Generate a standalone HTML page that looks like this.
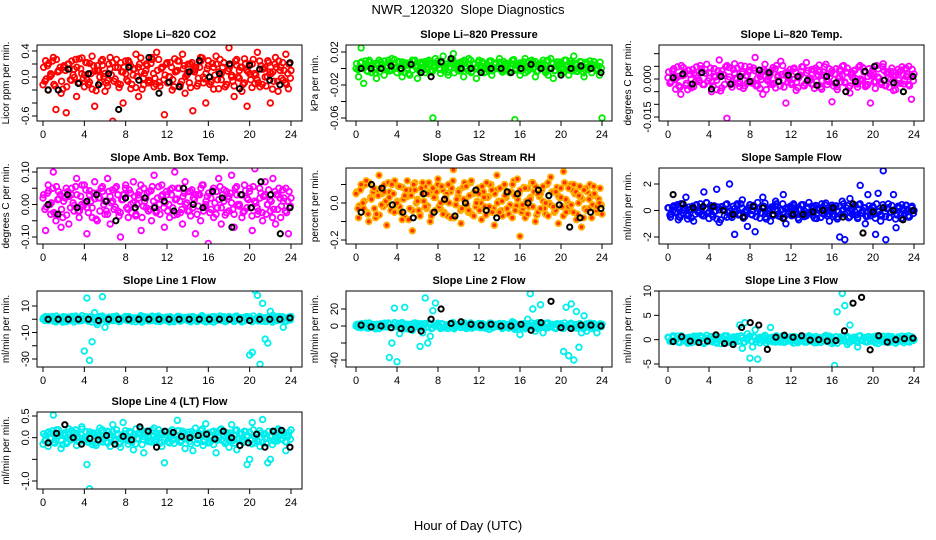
<!DOCTYPE html>
<html><head><meta charset="utf-8"><style>
html,body{margin:0;padding:0;background:#fff;}
svg{display:block;font-family:"Liberation Sans",sans-serif;}
</style></head><body>
<svg id="chart" width="936" height="540" viewBox="0 0 936 540" xmlns="http://www.w3.org/2000/svg">
<rect width="936" height="540" fill="#fff"/>
<text x="468" y="14" text-anchor="middle" font-size="13">NWR_120320&#160;&#160;Slope Diagnostics</text>
<text x="468" y="530" text-anchor="middle" font-size="13">Hour of Day (UTC)</text>
</svg>
<script>
// ---- data (colored = all samples, black = hourly means), scaled integers ----
const xTicks = [0,4,8,12,16,20,24];
const co2Vals = [-12,25,-20,5,30,-50,10,-25,15,-55,20,-5,12,-30,28,5,-15,22,-8,32,-45,10,0,18,-22,-5,30,-68,15,-10,22,-40,5,25,-18,12,35,-30,8,-12,20,-5,30,-15,38,-8,15,-58,22,0,-20,28,10,-15,35,-25,5,20,-52,12,-10,30,0,-40,25,-8,15,32,-18,5,22,-12,45,0,-30,18,10,-22,28,-45,5,20,-10,38,-15,12,0,25,-40,8,30,-22,15,-5,35,-18,10];
const co2Mean = [-20,-20,12,-10,5,-12,5,-50,15,-5,30,-25,-8,-15,8,25,0,5,20,-18,18,12,-5,-12,22];
const presVals = [0,-10,25,-18,5,8,-5,0,-12,10,5,-8,3,-3,12,0,-5,8,-10,5,0,-8,10,3,-12,6,0,-5,8,-3,-60,12,5,-6,15,0,-8,10,18,5,-3,8,-10,0,12,-5,5,-12,10,3,-5,0,8,-8,5,0,12,-3,6,0,-5,10,-62,5,-8,3,12,-3,0,8,-10,5,0,10,-5,-8,12,-12,3,8,-5,0,10,-8,5,15,-3,0,8,-10,5,3,-5,8,0,-8,-60];
const presMean = [0,0,0,3,0,5,-5,-10,8,12,0,0,-5,0,0,-5,0,5,0,0,-8,0,3,0,-5];
const tempVals = [5,-15,30,-40,10,-60,45,-25,35,0,-30,15,-10,40,-20,-185,25,-50,10,-5,75,-35,15,-155,45,-20,60,0,-30,20,50,-15,35,-10,85,-25,10,-60,30,0,-20,45,-35,15,70,-5,-95,25,-15,40,-45,5,30,-25,65,0,-20,35,-10,55,-40,15,-5,40,-90,20,-30,10,50,-15,25,-55,5,35,-20,0,45,-30,10,-95,25,-10,40,-15,60,-25,5,30,-45,15,-5,35,-20,10,50,-80,20];
const tempMean = [5,20,-20,25,-40,10,-20,10,-10,35,25,-10,15,10,-5,-25,10,-15,-50,-10,30,50,-5,-15,-50,10];
const ambVals = [2,-8,6,-3,10,-5,4,-7,1,5,-6,3,-2,8,-4,0,6,-9,3,-1,7,-5,2,4,-3,8,-6,1,5,-2,-10,3,6,-4,0,7,-3,2,-8,5,-1,4,-5,9,-2,0,6,-7,3,-4,5,10,-3,1,-6,7,-2,4,-1,-9,3,-5,6,0,-12,2,5,-3,8,-6,1,4,-2,9,-7,3,0,-4,6,-1,5,-8,11,-3,2,-5,7,0,-2,8,-6,3,-4,1,5,-9,2];
const ambMean = [0,-3,3,-1,1,3,1,-5,2,-1,2,-1,1,-2,5,0,-1,4,2,-7,3,-1,7,3,-9,-1];
const rhVals = [5,-8,10,-3,12,-10,2,8,-6,15,-1,6,-12,3,10,-5,0,9,-9,4,12,-3,-15,7,1,-7,11,-2,5,-10,8,-4,13,0,-6,3,10,-8,18,-1,6,-11,2,9,-4,12,-7,0,5,-9,3,11,-2,7,-12,15,-5,1,10,-3,6,-8,4,13,-18,-1,8,-6,2,11,-10,5,-3,9,0,-7,14,-2,6,-11,3,17,-5,8,-1,10,-9,4,-13,7,-4,2,-8,5,-2,0,-6];
const rhMean = [-5,10,8,-1,-5,-8,5,-5,2,-7,0,7,-4,-8,6,5,0,7,4,-1,-13,-8,-5,-3];
const sampVals = [2,-5,0,3,-7,5,-2,10,-4,1,-8,4,0,-3,14,6,-6,2,-1,16,-9,3,0,-5,20,-2,-18,5,-3,8,-1,-12,4,0,-16,6,-2,10,-5,1,-8,3,7,-4,0,12,-10,2,-3,5,-1,-7,4,0,-4,6,-2,3,-6,1,5,-3,0,-8,4,2,-5,-20,7,-22,-1,9,-3,4,-6,19,0,-10,12,-4,2,-18,13,-8,30,-22,5,-1,12,-13,3,-6,0,4,-5,2,0];
const sampMean = [12,5,2,3,3,0,-3,-5,3,2,-3,-6,-3,-3,-1,0,2,-5,5,-17,-1,2,0,-7,0];
const l1Vals = [0,2,-1,1,0,-2,1,0,2,-1,0,1,-2,0,1,-1,-24,16,-31,-17,5,-4,2,17,-6,0,1,-1,2,0,-1,1,0,2,-1,0,1,0,-1,2,0,1,-1,0,2,0,-1,1,0,-2,1,0,2,-1,0,1,-1,0,2,0,-1,1,0,-2,1,0,2,-1,0,1,-1,0,2,0,-1,1,0,-2,1,2,-27,-25,22,18,-34,12,-15,-18,6,3,-1,2,0,-6,1,0,2];
const l1Mean = [0,0,0,0,0,-1,0,0,0,0,0,0,0,0,0,0,0,0,0,0,-1,0,0,0,1];
const l2Vals = [0,2,-2,1,-1,3,0,-2,1,-3,0,2,-1,-37,-20,21,-42,-9,4,22,-2,0,-5,1,3,-24,-8,33,-20,-12,18,27,0,-3,2,-1,1,3,-2,0,2,-1,0,-3,1,2,-1,0,3,-2,1,0,-4,2,-1,0,3,-2,1,0,-1,5,-4,2,-10,0,-2,8,38,20,-6,4,25,-8,3,-2,0,1,-3,2,-1,-30,22,-35,26,-40,17,-25,-8,12,-6,2,-3,1,-8,0,2];
const l2Mean = [1,-1,0,-2,-3,-4,-6,8,20,3,5,2,1,2,0,0,2,-5,4,29,-2,-3,1,1,0];
const l3Vals = [5,-3,8,0,-5,6,-2,3,-6,1,7,-4,0,5,-8,2,-3,6,0,-5,4,-1,8,-6,2,0,-4,5,30,-18,35,12,-38,-15,20,-40,5,-2,8,-3,25,0,-5,3,-1,6,-4,2,0,-7,5,-2,3,0,-5,8,-3,1,-6,2,0,4,-2,7,-8,-53,57,3,95,70,-10,30,-2,5,-15,8,0,-4,6,-3,1,5,-8,2,0,-2,7,-4,3,-1,5,0,-6,3,8,-2,0];
const l3Mean = [-4,6,-3,-6,-3,10,-8,-10,25,35,30,-20,5,9,5,8,-1,0,-3,-2,18,75,87,-21,8,-5,0,2,3];
const l4Vals = [-15,5,-20,10,52,-5,18,-25,8,-10,20,-3,12,-18,0,25,-8,-62,-118,10,-15,5,22,-10,0,15,-20,30,-5,8,-22,35,0,-15,12,-28,20,-3,8,-35,15,0,-10,22,-5,10,-20,-58,5,-12,18,-3,40,-8,15,-25,0,10,-30,22,-5,8,-18,32,-12,5,15,-35,0,20,-8,12,-22,30,-3,-28,10,-5,15,-62,-50,35,-12,8,-20,42,0,-58,-50,15,-8,20,-3,12,-30,5,18];
const l4Mean = [-12,10,30,0,-15,-2,-5,5,-15,3,-5,25,15,-22,15,12,3,0,5,8,-3,15,0,-18,-12,8,-22,15,17,-22];
// core (dense band) samples, per-mille of each panel's core half-width
const coreA = [10,-5,15,0,-12,20,5,-8,12,-15,8,18,-3,10,-10,22,0,-6,15,-18,5,12,-10,20,2,-14,8,16,-5,10,-12,4,18,-8,12,0,-16,10,22,-4,6,-10,15,2,-12,20,8,-6,14,-2,10,-15,5,18,-8,12,0,-10,16,4,-14,10,22,-5,8,-12,15,0,-6,20,10,-15,5,12,-8,18,-2,10,-12,15,4,-6,20,0,-10,12,8,-14,16,2,-8,10,18,-4,6,-12,14];
const coreB = [-8,12,-2,18,-14,4,10,-18,6,14,-6,0,20,-10,8,-4,16,-12,2,12,-20,6,18,-2,-10,14,0,-8,20,-16,4,10,-6,16,-12,8,-2,14,-18,2,12,-8,20,-4,6,-14,10,0,-10,16,-6,4,18,-12,8,-2,14,-16,6,10,-4,18,-10,2,12,-8,-18,14,4,-6,16,-12,8,0,-14,20,-4,10,-10,6,14,-16,2,-6,18,-12,10,-2,4,-18,14,-8,6,16,-10,2,-4];

// ---- layout (pixel geometry, not data) ----
const cols = [{b0:37,b1:302,x0:43,x24:291},{b0:346,b1:612,x0:356,x24:602},{b0:659,b1:924,x0:668,x24:914}];
const rows = [{t:45,b:121},{t:168,b:244},{t:291,b:367},{t:412,b:489}];
const panels = [
 {n:'co2',title:'Slope Li\u2013820 CO2',ylab:'Licor ppm per min.',c:0,r:0,col:'#ff0000',k:100,core:0.012,mid:0.03,vals:co2Vals,mean:co2Mean,cal:[0.4,51,-0.6,116],ticks:[-0.6,-0.4,-0.2,0,0.2,0.4],labs:{'0.4':'0.4','0':'0.0','-0.6':'-0.6'}},
 {n:'pressure',title:'Slope Li\u2013820 Pressure',ylab:'kPa per min.',c:1,r:0,col:'#00ee00',k:1000,core:0.0004,mid:0.002,vals:presVals,mean:presMean,cal:[0.02,52,-0.06,118],ticks:[-0.06,-0.04,-0.02,0,0.02],labs:{'0.02':'0.02','-0.02':'-0.02','-0.06':'-0.06'}},
 {n:'temp',title:'Slope Li\u2013820 Temp.',ylab:'degrees C per min.',c:2,r:0,col:'#ff00ff',k:10000,core:0.00025,mid:0.0003,vals:tempVals,mean:tempMean,cal:[0,79,-0.015,117],ticks:[-0.015,-0.01,-0.005,0,0.005,0.01],labs:{'0':'0.000','-0.015':'-0.015'}},
 {n:'amb-box',title:'Slope Amb. Box Temp.',ylab:'degrees C per min.',c:0,r:1,col:'#ff00ff',k:100,core:0.0025,mid:0.005,vals:ambVals,mean:ambMean,cal:[0.1,172,-0.1,237],ticks:[-0.1,-0.05,0,0.05,0.1],labs:{'0.1':'0.10','0':'0.00','-0.1':'-0.10'}},
 {n:'gas-rh',title:'Slope Gas Stream RH',ylab:'percent per min.',c:1,r:1,col:'#ffb000',col2:'#ff3000',k:100,core:0.005,mid:0.01,vals:rhVals,mean:rhMean,cal:[0,203,-0.2,240],ticks:[-0.2,-0.1,0,0.1],labs:{'0':'0.0','-0.2':'-0.2'}},
 {n:'sample-flow',title:'Slope Sample Flow',ylab:'ml/min per min.',c:2,r:1,col:'#0000ff',k:10,core:0.03,mid:-0.1,vals:sampVals,mean:sampMean,cal:[2,184,-2,237],ticks:[-2,0,2],labs:{'2':'2','0':'0','-2':'-2'}},
 {n:'line1-flow',title:'Slope Line 1 Flow',ylab:'ml/min per min.',c:0,r:2,col:'#00eeee',k:1,core:0.12,mid:0,vals:l1Vals,mean:l1Mean,cal:[10,306,-30,359],ticks:[-30,-20,-10,0,10],labs:{'10':'10','-10':'-10','-30':'-30'}},
 {n:'line2-flow',title:'Slope Line 2 Flow',ylab:'ml/min per min.',c:1,r:2,col:'#00eeee',k:1,core:0.18,mid:0,vals:l2Vals,mean:l2Mean,cal:[20,309,-40,360],ticks:[-40,-20,0,20],labs:{'20':'20','0':'0','-40':'-40'}},
 {n:'line3-flow',title:'Slope Line 3 Flow',ylab:'ml/min per min.',c:2,r:2,col:'#00eeee',k:10,core:0.04,mid:0,vals:l3Vals,mean:l3Mean,cal:[10,291,-5,364],ticks:[-5,0,5,10],labs:{'10':'10','5':'5','0':'0','-5':'-5'}},
 {n:'line4-flow',title:'Slope Line 4 (LT) Flow',ylab:'ml/min per min.',c:0,r:3,col:'#00eeee',k:100,core:0.009,mid:0,vals:l4Vals,mean:l4Mean,cal:[0.5,416,-1,481],ticks:[-1,-0.5,0,0.5],labs:{'0.5':'0.5','0':'0.0','-1':'-1.0'}}
];
const NS='http://www.w3.org/2000/svg';
const svg=document.getElementById('chart');
function mk(tag,attrs,parent){const e=document.createElementNS(NS,tag);for(const a in attrs)e.setAttribute(a,attrs[a]);(parent||svg).appendChild(e);return e;}
panels.forEach(p=>{
  const C=cols[p.c],R=rows[p.r];
  const g=mk('g',{});
  
  
  const xS=h=>C.x0+(C.x24-C.x0)*h/24;
  const [v1,y1,v2,y2]=p.cal;
  const yS=v=>y1+(v-v1)*(y2-y1)/(v2-v1);
  const clip='clip-'+p.n;
  const cp=mk('clipPath',{id:clip},g);mk('rect',{x:C.b0,y:R.t,width:C.b1-C.b0,height:R.b-R.t},cp);
  const pts=mk('g',{'clip-path':'url(#'+clip+')'},g);
  const fillC=p.col2?p.col2:'none';
  [coreA,coreB].forEach((arr,j)=>{
    const m2=arr.length;
    arr.forEach((v,i)=>{
      const c=mk('circle',{cx:xS((i+0.5*j+0.25)*24/m2),cy:yS(p.mid+v*p.core),r:2.8,fill:fillC,stroke:p.col,'stroke-width':1.8},pts);
      
      
    });
  });
  const n=p.vals.length;
  p.vals.forEach((v,i)=>{
    const c=mk('circle',{cx:xS(i*24/(n-1)),cy:yS(v/p.k),r:2.8,fill:fillC,stroke:p.col,'stroke-width':1.8},pts);
    
    
  });
  const m=p.mean.length;
  p.mean.forEach((v,i)=>{
    const c=mk('circle',{cx:xS(0.5+i*23.4/(m-1)),cy:yS(v/p.k),r:2.6,fill:'none',stroke:'#000','stroke-width':2},pts);
    
    
  });
  const box=mk('rect',{x:C.b0,y:R.t,width:C.b1-C.b0,height:R.b-R.t,fill:'none',stroke:'#000','stroke-width':1},g);
  
  
  const t=mk('text',{x:(C.b0+C.b1)/2,y:R.t-7,'text-anchor':'middle','font-size':11,'font-weight':'bold'},g);t.textContent=p.title;
  
  
  mk('line',{x1:xS(0),x2:xS(24),y1:R.b,y2:R.b,stroke:'#000'},g);
  xTicks.forEach(h=>{
    mk('line',{x1:xS(h),x2:xS(h),y1:R.b,y2:R.b+5,stroke:'#000'},g);
    const tl=mk('text',{x:xS(h),y:R.b+17,'text-anchor':'middle','font-size':11},g);tl.textContent=h;
    
    
  });
  const yt=p.ticks.map(yS);
  mk('line',{x1:C.b0,x2:C.b0,y1:Math.min(...yt),y2:Math.max(...yt),stroke:'#000'},g);
  p.ticks.forEach(v=>{
    const y=yS(v);
    mk('line',{x1:C.b0-5,x2:C.b0,y1:y,y2:y,stroke:'#000'},g);
    const key=String(v);
    if(p.labs[key]!==undefined){
      const tl=mk('text',{x:C.b0-8,y:y,'text-anchor':'middle','font-size':11,transform:'rotate(-90 '+(C.b0-8)+' '+y+')'},g);
      tl.textContent=p.labs[key];
      
      
    }
  });
  const ym=(R.t+R.b)/2, yx=C.b0-28;
  const yl=mk('text',{x:yx,y:ym,'text-anchor':'middle','font-size':10,transform:'rotate(-90 '+yx+' '+ym+')'},g);
  yl.textContent=p.ylab;
  
  
});
</script>
</body></html>
